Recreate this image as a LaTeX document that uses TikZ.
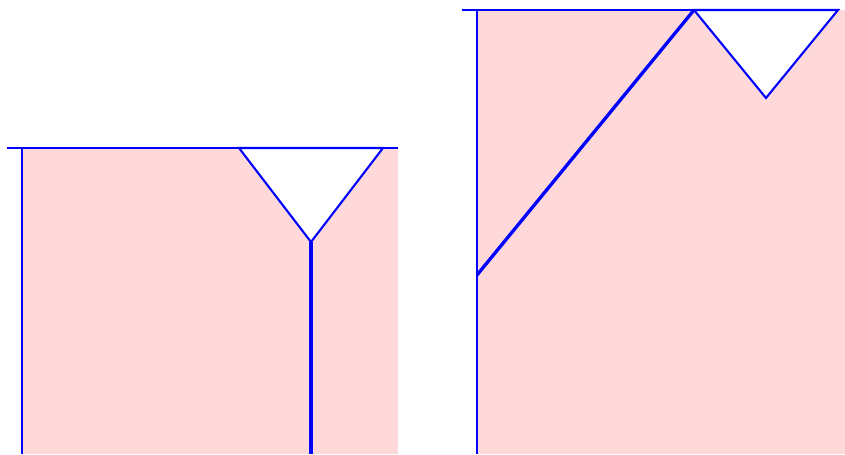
\documentclass[tikz,border=0pt]{standalone}
\usepackage{tikz}
\usetikzlibrary{calc}
\tikzset{
  region/.style={fill=red!15, draw=none},
  hole/.style={fill=white, draw=blue, line width=1.2pt, line join=miter},
  wall/.style={draw=blue, line width=1.2pt},
  crack/.style={draw=blue, line width=1.9pt}
}

\begin{document}
\begin{tikzpicture}[x=0.02cm,y=-0.02cm]
\useasboundingbox (0,0) rectangle (845,454);
% left panel
\coordinate (lA) at (22,148);
\coordinate (lB) at (239,148);
\coordinate (lC) at (383,148);
\coordinate (lD) at (311,242);
\coordinate (lE) at (311,454);
\fill[region] (lA) rectangle (398,454);
\draw[hole] (lB) -- (lC) -- (lD) -- cycle;
\draw[wall] (7,148) -- (398,148);
\draw[wall] (lA) -- (22,454);
\draw[crack] (lD) -- (lE);
% right panel
\coordinate (rA) at (477,10);
\coordinate (rB) at (694,10);
\coordinate (rC) at (838,10);
\coordinate (rD) at (766,98);
\coordinate (rE) at (477,275);
\fill[region] (rA) rectangle (845,454);
\draw[hole] (rB) -- (rC) -- (rD) -- cycle;
\draw[wall] (462,10) -- (rC);
\draw[wall] (rA) -- (477,454);
\draw[crack] (rE) -- (rB);
\end{tikzpicture}
\end{document}
